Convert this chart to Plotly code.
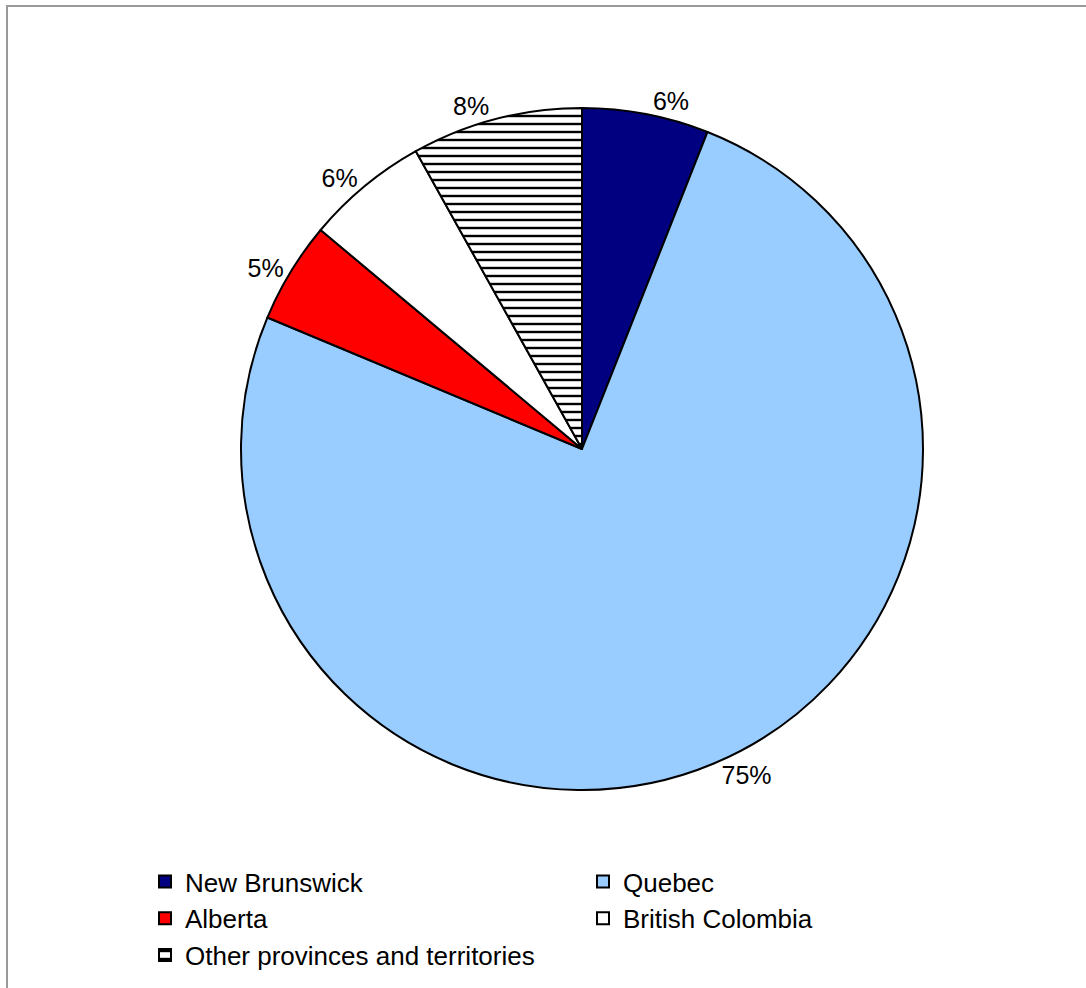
import plotly.graph_objects as go

labels = ["New Brunswick", "Quebec", "Alberta", "British Colombia", "Other provinces and territories"]
values = [6.0, 75.3, 4.8, 5.8, 8.1]
colors = ["#000080", "#99CCFF", "#FF0000", "#FFFFFF", "#FFFFFF"]
patterns = ["", "", "", "", "-"]

W, H = 1086, 988
cx, cy, r = 582, 449, 341
FONT = "Liberation Sans, Arial"

fig = go.Figure(go.Pie(
    labels=labels,
    values=values,
    sort=False,
    direction="clockwise",
    rotation=0,
    marker=dict(
        colors=colors,
        line=dict(color="#000000", width=2),
        pattern=dict(shape=patterns, fgcolor="#000000", bgcolor="#FFFFFF", size=8, solidity=0.3),
    ),
    texttemplate="%{percent:.0%}",
    textposition="outside",
    outsidetextfont=dict(color="#000000", size=25, family=FONT),
    domain=dict(x=[(cx - r) / W, (cx + r) / W], y=[1 - (cy + r) / H, 1 - (cy - r) / H]),
    hoverinfo="label+percent",
))

fig.update_layout(
    width=W, height=H,
    margin=dict(l=0, r=0, t=0, b=0),
    paper_bgcolor="#FFFFFF",
    font=dict(family=FONT, size=26, color="#000000"),
    showlegend=True,
    legend=dict(
        orientation="h",
        x=145 / W, xanchor="left",
        y=1 - 858 / H, yanchor="top",
        entrywidth=393,
        traceorder="normal",
        itemwidth=30,
        font=dict(size=26, family=FONT),
    ),
    shapes=[
        dict(type="line", xref="paper", yref="paper", x0=6 / W, x1=1.0, y0=1 - 6 / H, y1=1 - 6 / H,
             line=dict(color="#999999", width=2)),
        dict(type="line", xref="paper", yref="paper", x0=7 / W, x1=7 / W, y0=0, y1=1 - 6 / H,
             line=dict(color="#999999", width=2)),
    ],
)

fig.write_html("out.html")
